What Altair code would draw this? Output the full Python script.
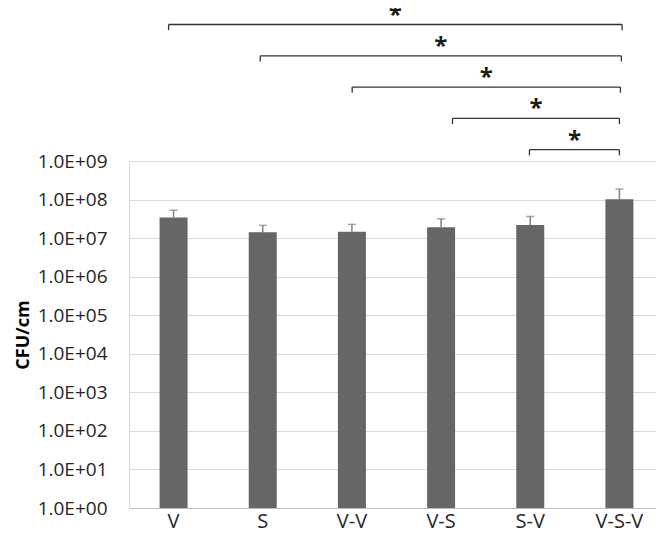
import json
import altair as alt
import pandas as pd

# ---- data ----
categories = ["V", "S", "V-V", "V-S", "S-V", "V-S-V"]
means = [3.44e7, 1.41e7, 1.46e7, 1.90e7, 2.18e7, 1.02e8]
upper = [5.3e7, 2.14e7, 2.27e7, 3.16e7, 3.64e7, 1.87e8]

y_tick_values = [1, 10, 100, 1e3, 1e4, 1e5, 1e6, 1e7, 1e8, 1e9]
y_tick_labels = ["1.0E+00", "1.0E+01", "1.0E+02", "1.0E+03", "1.0E+04",
                 "1.0E+05", "1.0E+06", "1.0E+07", "1.0E+08", "1.0E+09"]

# significance brackets (positions in category units, level 1 = lowest)
bracket_left = [-0.056, 0.972, 2.003, 3.128, 3.991]
bracket_right = [5.03, 5.022, 5.011, 5.0, 5.0]
bracket_level = [5, 4, 3, 2, 1]
bracket_label = ["*", "*", "*", "*", "*"]

# ---- layout ----
W, H = 535, 500
FONT = "Open Sans"

df = pd.DataFrame({"cat": categories, "mean": means, "upper": upper,
                   "base": [1] * len(categories)})

hdf = pd.DataFrame({"left": bracket_left, "right": bracket_right,
                    "level": bracket_level, "label": bracket_label})
hdf["mid"] = (hdf["left"] + hdf["right"]) / 2
vdf = pd.concat([
    pd.DataFrame({"x": bracket_left, "level": bracket_level}),
    pd.DataFrame({"x": bracket_right, "level": bracket_level}),
])
vdf["low"] = vdf["level"] - 0.18

label_expr = json.dumps(y_tick_labels) + "[round(log(datum.value)/LN10)]"

yscale = alt.Scale(type="log", domain=[1, 1e9], range=[H, 153], nice=False)
yaxis = alt.Axis(values=y_tick_values, labelExpr=label_expr, title="CFU/cm",
                 grid=True, gridColor="#d9d9d9", gridWidth=1,
                 domain=True, domainColor="#d9d9d9", ticks=False, tickSize=0,
                 labelPadding=22, labelFont=FONT, labelFontSize=19,
                 labelColor="#262626",
                 titleFont=FONT, titleFontSize=18, titleFontWeight="bold",
                 titleColor="#000000", titleX=-97, titleY=(H + 153) / 2,
                 titleAngle=270, titleBaseline="bottom", titleAlign="center")
xscale = alt.Scale(domain=categories, paddingInner=0.686, paddingOuter=0.343)
xaxis = alt.Axis(title=None, labelAngle=0, ticks=False, tickSize=0,
                 labelPadding=3, labelFont=FONT, labelFontSize=20,
                 labelColor="#262626", domainColor="#bfbfbf", grid=False)

X = alt.X("cat:N", sort=categories, scale=xscale, axis=xaxis)

bars = alt.Chart(df).mark_bar(color="#666666").encode(
    x=X,
    y=alt.Y("mean:Q", scale=yscale, axis=yaxis),
    y2="base:Q",
)
err = alt.Chart(df).mark_rule(color="#808080", strokeWidth=1.5).encode(
    x=X,
    y=alt.Y("mean:Q", scale=yscale, axis=yaxis),
    y2="upper:Q",
)
cap = alt.Chart(df).mark_tick(color="#808080", thickness=1.5, size=8).encode(
    x=X,
    y=alt.Y("upper:Q", scale=yscale, axis=yaxis),
)
main = alt.layer(bars, err, cap)

xq = alt.Scale(domain=[-0.5, 5.5], range=[0, W], nice=False, zero=False)
yq = alt.Scale(domain=[0, 5], range=[173.0, 16.5], nice=False, zero=False)

hrule = alt.Chart(hdf).mark_rule(color="#333333", strokeWidth=1.3).encode(
    x=alt.X("left:Q", scale=xq, axis=None),
    x2="right:Q",
    y=alt.Y("level:Q", scale=yq, axis=None),
)
vrule = alt.Chart(vdf).mark_rule(color="#333333", strokeWidth=1.3).encode(
    x=alt.X("x:Q", scale=xq, axis=None),
    y=alt.Y("level:Q", scale=yq, axis=None),
    y2="low:Q",
)
stars = alt.Chart(hdf).mark_text(font=FONT, fontSize=24, fontWeight="bold",
                                 color="#1a1a1a", baseline="alphabetic",
                                 dy=-2).encode(
    x=alt.X("mid:Q", scale=xq, axis=None),
    y=alt.Y("level:Q", scale=yq, axis=None),
    text="label:N",
)
ann = alt.layer(hrule, vrule, stars)

chart = alt.layer(main, ann).resolve_scale(
    x="independent", y="independent"
).properties(
    width=W, height=H,
    padding={"left": 121, "top": 0, "right": -8, "bottom": 32},
    autosize=alt.AutoSizeParams(type="none"),
    background="white",
).configure_view(stroke=None)

chart.save("out.html", embed_options={"renderer": "svg", "actions": False})
